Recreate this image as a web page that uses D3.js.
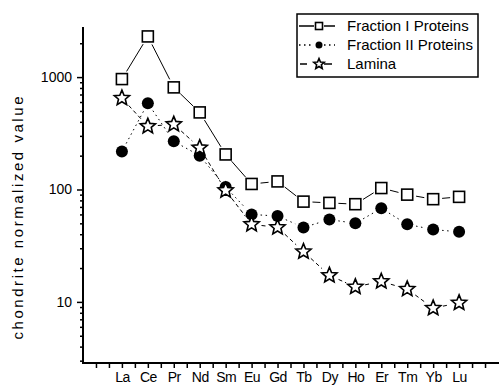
<!DOCTYPE html>
<html>
<head>
<meta charset="utf-8">
<style>
  body { margin: 0; background: #fff; }
  svg { display: block; font-family: "Liberation Sans", Arial, sans-serif; }
  .axis text { font-size: 14px; fill: #000; }
  .axis path, .axis line { stroke: #000; }
</style>
</head>
<body>
<svg width="499" height="387"></svg>
<script src="https://d3js.org/d3.v7.min.js"></script>
<script>
// element names on the x axis
let elements = ["La", "Ce", "Pr", "Nd", "Sm", "Eu", "Gd", "Tb", "Dy", "Ho", "Er", "Tm", "Yb", "Lu"]

// chondrite normalized values
let fraction1 = [960, 2300, 810, 485, 205, 112, 118, 78, 76, 74, 103, 90, 82, 86]
let fraction2 = [218, 585, 268, 200, 105, 60, 58, 46, 54, 50, 68, 49, 44, 42]
let lamina = [650, 365, 380, 235, 98, 49, 46, 28, 17.2, 13.6, 15.2, 13, 8.8, 9.8]

let yMajor = [10, 100, 1000]
let legendNames = ["Fraction I Proteins", "Fraction II Proteins", "Lamina"]

let svg = d3.select("svg")

let x = d3.scaleLinear()
    .domain([-0.5, 15.5])
    .range([83, 498])

let y = d3.scaleLog()
    .domain([2.86, 2790])
    .range([363, 27])

// y axis: major + minor ticks
let yMinor = []
;[1, 10, 100, 1000].forEach(dec => {
    for (let k = 2; k <= 9; k++) {
        let v = dec * k
        if (v > 2.86 && v < 2790) yMinor.push(v)
    }
})

svg.append("g")
    .attr("class", "axis")
    .attr("transform", "translate(83,0)")
    .call(d3.axisLeft(y).tickValues(yMinor).tickSize(3).tickFormat(""))
    .call(g => g.select(".domain").remove())
    .selectAll("line").attr("stroke-width", 1.5)

svg.append("g")
    .attr("class", "axis")
    .attr("transform", "translate(83,0)")
    .call(d3.axisLeft(y).tickValues(yMajor).tickSize(6).tickPadding(5).tickFormat(d3.format("d")))
    .call(g => g.select(".domain").remove())
    .call(g => g.selectAll("line").attr("stroke-width", 1.5))
    .call(g => g.selectAll("text").attr("font-size", 15))

// x axis
let xTicks = d3.range(0, 15.01, 0.5)
svg.append("g")
    .attr("class", "axis")
    .attr("transform", "translate(0,363)")
    .call(d3.axisBottom(x).tickValues(xTicks).tickSize(5).tickPadding(4)
        .tickFormat(d => Number.isInteger(d) && d >= 1 && d <= elements.length ? elements[d - 1] : ""))
    .call(g => g.select(".domain").remove())
    .call(g => g.selectAll("line").attr("stroke-width", 1.5))
    .call(g => g.selectAll("text").attr("letter-spacing", "-0.5px"))

// axis lines
svg.append("line")
    .attr("x1", 83).attr("x2", 83).attr("y1", 27).attr("y2", 363)
    .attr("stroke", "#000").attr("stroke-width", 2)
svg.append("line")
    .attr("x1", 82).attr("x2", 499).attr("y1", 363).attr("y2", 363)
    .attr("stroke", "#000").attr("stroke-width", 2)

// y title
svg.append("text")
    .attr("transform", "translate(23,218) rotate(-90)")
    .attr("text-anchor", "middle")
    .attr("font-size", 15)
    .attr("fill", "#000")
    .attr("textLength", 243)
    .attr("lengthAdjust", "spacing")
    .text("chondrite normalized value")

// star path
function starPath(r) {
    let pts = []
    for (let i = 0; i < 10; i++) {
        let a = -Math.PI / 2 + i * Math.PI / 5
        let rr = i % 2 == 0 ? r : r * 0.45
        pts.push([rr * Math.cos(a), rr * Math.sin(a)])
    }
    return "M" + pts.map(p => p.join(",")).join("L") + "Z"
}

let series = [
    {values: fraction1, dash: null, gap: 9, marker: "square"},
    {values: fraction2, dash: "1.5,3.5", gap: 9, marker: "circle"},
    {values: lamina, dash: "4,3", gap: 10, marker: "star"}
]

function drawMarker(g, kind, cx, cy, s) {
    if (kind == "square") {
        g.append("rect")
            .attr("x", cx - s / 2).attr("y", cy - s / 2)
            .attr("width", s).attr("height", s)
            .attr("fill", "#fff").attr("stroke", "#000").attr("stroke-width", 1.6)
    } else if (kind == "circle") {
        g.append("circle")
            .attr("cx", cx).attr("cy", cy).attr("r", s / 2)
            .attr("fill", "#000")
    } else {
        g.append("path")
            .attr("d", starPath(s / 2 + 1))
            .attr("transform", `translate(${cx},${cy})`)
            .attr("fill", "#fff").attr("stroke", "#000").attr("stroke-width", 1.6)
    }
}

let plot = svg.append("g")

series.forEach(s => {
    let pts = s.values.map((v, i) => [x(i + 1), y(v)])
    let lines = plot.append("g")
    for (let i = 0; i < pts.length - 1; i++) {
        let [x1, y1] = pts[i], [x2, y2] = pts[i + 1]
        let len = Math.hypot(x2 - x1, y2 - y1)
        if (len <= 2 * s.gap) continue
        let ux = (x2 - x1) / len, uy = (y2 - y1) / len
        lines.append("line")
            .attr("x1", x1 + ux * s.gap).attr("y1", y1 + uy * s.gap)
            .attr("x2", x2 - ux * s.gap).attr("y2", y2 - uy * s.gap)
            .attr("stroke", "#000").attr("stroke-width", 1)
            .attr("stroke-dasharray", s.dash)
    }
})

series.forEach(s => {
    let g = plot.append("g")
    s.values.forEach((v, i) => {
        drawMarker(g, s.marker, x(i + 1), y(v), s.marker == "star" ? 14 : (s.marker == "circle" ? 12 : 11))
    })
})

// legend
let legend = svg.append("g")
legend.append("rect")
    .attr("x", 297).attr("y", 14).attr("width", 181).attr("height", 63)
    .attr("fill", "#fff").attr("stroke", "#000").attr("stroke-width", 1.5)

legendNames.forEach((name, i) => {
    let ly = 26 + i * 19
    let s = series[i]
    legend.append("line")
        .attr("x1", i == 2 ? 300 : 299).attr("x2", i == 2 ? 307 : 314).attr("y1", ly).attr("y2", ly)
        .attr("stroke", "#000").attr("stroke-width", 1.5)
        .attr("stroke-dasharray", i == 1 ? s.dash : null)
    legend.append("line")
        .attr("x1", 324).attr("x2", i == 2 ? 332 : 335).attr("y1", ly).attr("y2", ly)
        .attr("stroke", "#000").attr("stroke-width", 1.5)
        .attr("stroke-dasharray", i == 1 ? s.dash : null)
    drawMarker(legend, s.marker, 319, ly, s.marker == "star" ? 9 : 7)
    legend.append("text")
        .attr("x", 347).attr("y", ly + 5)
        .attr("font-size", 15)
        .attr("fill", "#000")
        .text(name)
})
</script>
</body>
</html>
